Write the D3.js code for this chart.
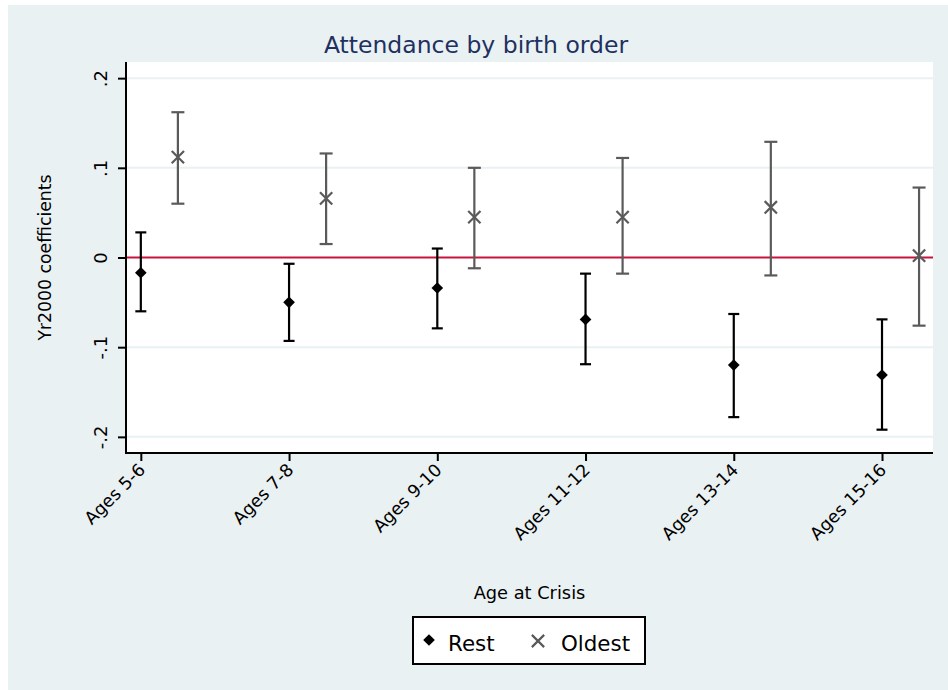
<!DOCTYPE html>
<html>
<head>
<meta charset="utf-8">
<script src="https://cdn.jsdelivr.net/npm/d3@7"></script>
<style>
  html, body { margin: 0; padding: 0; background: #ffffff; }
  svg { display: block; }
  text { font-family: "DejaVu Sans", Verdana, sans-serif; }
</style>
</head>
<body>
<div id="chart"></div>
<script>
// Age groups at the time of the crisis
const categories = ["Ages 5-6", "Ages 7-8", "Ages 9-10", "Ages 11-12", "Ages 13-14", "Ages 15-16"];

// "Rest" (younger siblings): point estimate and 95% interval
const restCoef = [-0.017, -0.050, -0.034, -0.069, -0.120, -0.131];
const restLo   = [-0.060, -0.093, -0.079, -0.119, -0.178, -0.192];
const restHi   = [ 0.028, -0.007,  0.010, -0.018, -0.063, -0.069];

// "Oldest" child: point estimate and 95% interval
const oldestCoef = [0.112, 0.066, 0.045, 0.045, 0.056, 0.002];
const oldestLo   = [0.060, 0.015, -0.012, -0.018, -0.020, -0.076];
const oldestHi   = [0.162, 0.116, 0.100, 0.111, 0.129, 0.078];

// Y axis ticks and their labels
const yTicks = [-0.2, -0.1, 0, 0.1, 0.2];
const yTickLabels = ["-.2", "-.1", "0", ".1", ".2"];

const W = 948, H = 690;
const plot = { left: 126, right: 933, top: 62, bottom: 453 };
const FONT = "'DejaVu Sans', Verdana, sans-serif";

const bgColor = "#eaf1f3";
const restColor = "#000000";
const oldestColor = "#5a5a5a";

const svg = d3.select("#chart").append("svg")
  .attr("width", W).attr("height", H);

// graph region and plot region
svg.append("rect").attr("x", 8).attr("y", 5).attr("width", W - 8).attr("height", H - 5)
  .attr("fill", bgColor);
svg.append("rect").attr("x", plot.left).attr("y", plot.top)
  .attr("width", plot.right - plot.left).attr("height", plot.bottom - plot.top)
  .attr("fill", "#ffffff");

const x = d3.scaleLinear().domain([0.9, 6.344]).range([plot.left, plot.right]);
const y = d3.scaleLinear().domain([-0.218, 0.218]).range([plot.bottom, plot.top]);
const oldestShift = 0.25;

// horizontal grid lines
svg.append("g").selectAll("line").data(yTicks.filter(t => t !== 0)).join("line")
  .attr("x1", plot.left).attr("x2", plot.right)
  .attr("y1", d => y(d)).attr("y2", d => y(d))
  .attr("stroke", bgColor).attr("stroke-width", 2);

// reference line at zero
svg.append("line")
  .attr("x1", plot.left).attr("x2", plot.right)
  .attr("y1", y(0)).attr("y2", y(0))
  .attr("stroke", "#c8133c").attr("stroke-width", 2);

// y axis
const yAxis = d3.axisLeft(y).tickValues(yTicks)
  .tickFormat((d, i) => yTickLabels[i]).tickSize(8).tickPadding(0);
const gy = svg.append("g").attr("transform", `translate(${plot.left},0)`).call(yAxis);
gy.select(".domain").attr("stroke", "#000").attr("stroke-width", 2)
  .attr("d", `M0,${plot.top}V${plot.bottom + 1}`);
gy.selectAll(".tick line").attr("stroke", "#000").attr("stroke-width", 2);
gy.selectAll(".tick text")
  .attr("x", null).attr("dy", null)
  .attr("transform", "translate(-19,0) rotate(-90)")
  .attr("text-anchor", "middle")
  .attr("font-size", 18).attr("fill", "#000")
  .style("font-family", FONT);

// x axis
const xIdx = categories.map((c, i) => i + 1);
const xAxis = d3.axisBottom(x).tickValues(xIdx)
  .tickFormat((d, i) => categories[i]).tickSize(8).tickPadding(0);
const gx = svg.append("g").attr("transform", `translate(0,${plot.bottom})`).call(xAxis);
gx.select(".domain").attr("stroke", "#000").attr("stroke-width", 2)
  .attr("d", `M${plot.left - 1},0H${plot.right}`);
gx.selectAll(".tick line").attr("stroke", "#000").attr("stroke-width", 2);
gx.selectAll(".tick text")
  .attr("y", null).attr("dy", null)
  .attr("transform", "translate(5,18) rotate(-45)")
  .attr("text-anchor", "end")
  .attr("font-size", 17.5).attr("fill", "#000")
  .style("font-family", FONT);

// titles
svg.append("text").attr("x", 476).attr("y", 53).attr("text-anchor", "middle")
  .attr("font-size", 23.5).attr("fill", "#1e3160").text("Attendance by birth order");
svg.append("text").attr("transform", `translate(51,${(plot.top + plot.bottom) / 2}) rotate(-90)`)
  .attr("text-anchor", "middle").attr("font-size", 17.3).attr("fill", "#000")
  .text("Yr2000 coefficients");
svg.append("text").attr("x", (plot.left + plot.right) / 2).attr("y", 599)
  .attr("text-anchor", "middle").attr("font-size", 17.8).attr("fill", "#000")
  .text("Age at Crisis");

// error bars with caps and point markers
function drawSeries(coef, lo, hi, shift, color, capHalf, marker) {
  const g = svg.append("g");
  const rows = coef.map((c, i) => ({ xv: i + 1 + shift, c, lo: lo[i], hi: hi[i] }));
  g.selectAll("line.bar").data(rows).join("line").attr("class", "bar")
    .attr("x1", d => x(d.xv)).attr("x2", d => x(d.xv))
    .attr("y1", d => y(d.lo)).attr("y2", d => y(d.hi))
    .attr("stroke", color).attr("stroke-width", 2.2);
  ["lo", "hi"].forEach(k => {
    g.selectAll("line.cap" + k).data(rows).join("line").attr("class", "cap" + k)
      .attr("x1", d => x(d.xv) - capHalf).attr("x2", d => x(d.xv) + capHalf)
      .attr("y1", d => y(d[k])).attr("y2", d => y(d[k]))
      .attr("stroke", color).attr("stroke-width", 2.2);
  });
  g.selectAll("path.mk").data(rows).join("path").attr("class", "mk")
    .attr("transform", d => `translate(${x(d.xv)},${y(d.c)})` + marker.rot)
    .attr("d", marker.path)
    .attr("fill", marker.fill ? color : "none")
    .attr("stroke", marker.fill ? "none" : color)
    .attr("stroke-width", marker.fill ? 0 : 2.2);
}

const diamond = { path: d3.symbol(d3.symbolSquare, 68)(), rot: " rotate(45)", fill: true };
const cross = { path: d3.symbol(d3.symbolX, 100)(), rot: "", fill: false };

drawSeries(restCoef, restLo, restHi, 0, restColor, 5.5, diamond);
drawSeries(oldestCoef, oldestLo, oldestHi, oldestShift, oldestColor, 6.5, cross);

// legend
const lg = svg.append("g");
lg.append("rect").attr("x", 413).attr("y", 617).attr("width", 232).attr("height", 47)
  .attr("fill", "#fff").attr("stroke", "#000").attr("stroke-width", 2);
lg.append("path").attr("transform", "translate(429,640) rotate(45)").attr("d", diamond.path)
  .attr("fill", restColor);
lg.append("text").attr("x", 448).attr("y", 651).attr("font-size", 21.4).attr("fill", "#000").text("Rest");
lg.append("path").attr("transform", "translate(538,641)").attr("d", cross.path)
  .attr("fill", "none").attr("stroke", oldestColor).attr("stroke-width", 2.2);
lg.append("text").attr("x", 561).attr("y", 651).attr("font-size", 21.4).attr("fill", "#000").text("Oldest");
</script>
</body>
</html>
